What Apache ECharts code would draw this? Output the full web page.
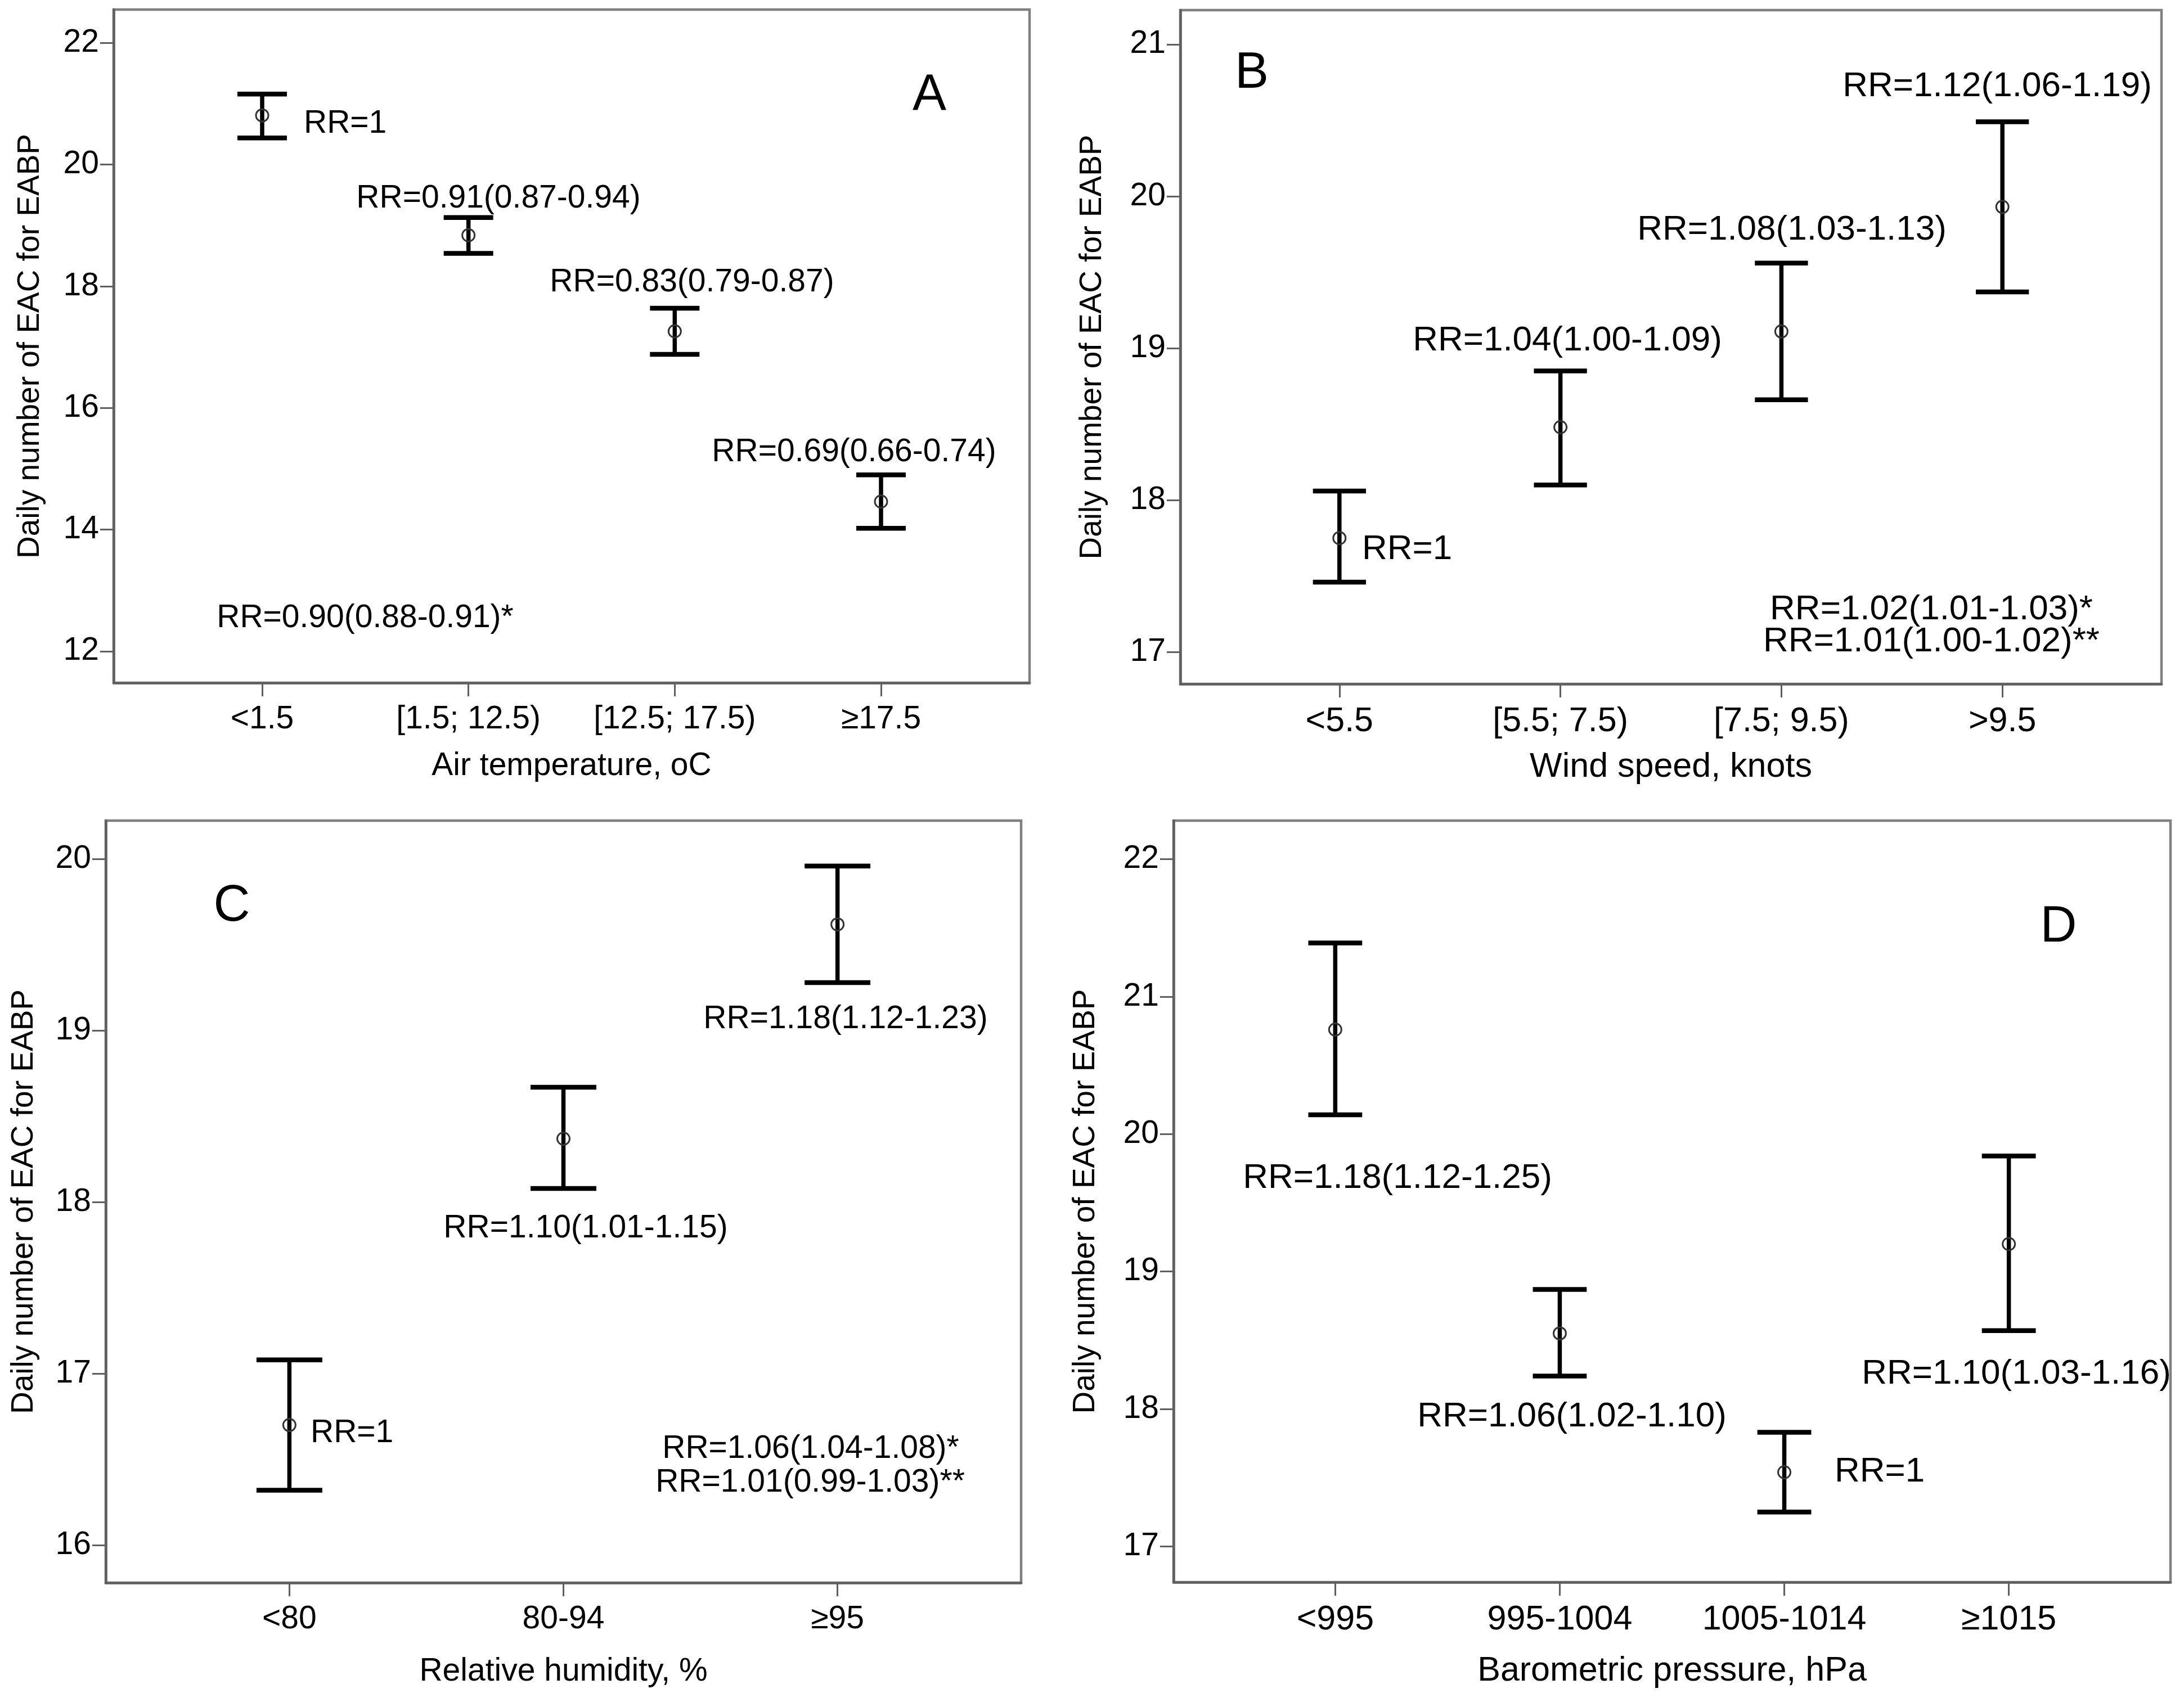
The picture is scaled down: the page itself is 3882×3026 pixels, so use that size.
<!DOCTYPE html>
<html><head><meta charset="utf-8">
<script src="https://cdn.jsdelivr.net/npm/echarts@6/dist/echarts.min.js"></script>
<style>html,body{margin:0;padding:0;background:#fff}#c{width:3882px;height:3026px}</style>
</head><body><div id="c"></div>
<script>
// ---- Data ----
const catsA = ['<1.5', '[1.5; 12.5)', '[12.5; 17.5)', '\u226517.5'];
const meanA = [20.81, 18.84, 17.26, 14.46];
const lowA  = [20.44, 18.54, 16.88, 14.02];
const highA = [21.16, 19.13, 17.64, 14.90];
const ticksA = [12, 14, 16, 18, 20, 22];
const notesA = ['RR=1', 'RR=0.91(0.87-0.94)', 'RR=0.83(0.79-0.87)', 'RR=0.69(0.66-0.74)', 'RR=0.90(0.88-0.91)*'];

const catsB = ['<5.5', '[5.5; 7.5)', '[7.5; 9.5)', '>9.5'];
const meanB = [17.75, 18.48, 19.11, 19.93];
const lowB  = [17.46, 18.10, 18.66, 19.37];
const highB = [18.06, 18.85, 19.56, 20.49];
const ticksB = [17, 18, 19, 20, 21];
const notesB = ['RR=1', 'RR=1.04(1.00-1.09)', 'RR=1.08(1.03-1.13)', 'RR=1.12(1.06-1.19)', 'RR=1.02(1.01-1.03)*', 'RR=1.01(1.00-1.02)**'];

const catsC = ['<80', '80-94', '\u226595'];
const meanC = [16.70, 18.37, 19.62];
const lowC  = [16.32, 18.08, 19.28];
const highC = [17.08, 18.67, 19.96];
const ticksC = [16, 17, 18, 19, 20];
const notesC = ['RR=1', 'RR=1.10(1.01-1.15)', 'RR=1.18(1.12-1.23)', 'RR=1.06(1.04-1.08)*', 'RR=1.01(0.99-1.03)**'];

const catsD = ['<995', '995-1004', '1005-1014', '\u22651015'];
const meanD = [20.76, 18.55, 17.54, 19.20];
const lowD  = [20.14, 18.24, 17.25, 18.57];
const highD = [21.39, 18.87, 17.83, 19.84];
const ticksD = [17, 18, 19, 20, 21, 22];
const notesD = ['RR=1.18(1.12-1.25)', 'RR=1.06(1.02-1.10)', 'RR=1', 'RR=1.10(1.03-1.16)'];

const yTitle = 'Daily number of EAC for EABP';

// ---- Layout ----
const FONT = '"Liberation Sans", Arial, Helvetica, sans-serif';
const AXIS_COLOR = '#5f5f5f';
const panels = [
  { letter: 'A', cats: catsA, mean: meanA, low: lowA, high: highA, ticks: ticksA, notes: notesA,
    xName: 'Air temperature, oC', fs: 57, xfs: 57,
    grid: { left: 202, top: 17, width: 1628, height: 1197 }, pad: 0.72, yMin: 11.48, yMax: 22.55,
    xNameGap: 120, yNameGap: 121,
    letterPos: [1652, 170],
    notePos: [[540, 220, 'left'], [886, 353, 'center'], [1230, 502, 'center'], [1518, 804, 'center'], [649, 1099, 'center']] },
  { letter: 'B', cats: catsB, mean: meanB, low: lowB, high: highB, ticks: ticksB, notes: notesB,
    xName: 'Wind speed, knots', fs: 62, xfs: 61,
    grid: { left: 2098, top: 18, width: 1744, height: 1198 }, pad: 0.72, yMin: 16.79, yMax: 21.225,
    xNameGap: 118, yNameGap: 129,
    letterPos: [2225, 131],
    notePos: [[2421, 977, 'left'], [2786, 606, 'center'], [3185, 409, 'center'], [3550, 154, 'center'], [3433, 1084, 'center'], [3433, 1141, 'center']] },
  { letter: 'C', cats: catsC, mean: meanC, low: lowC, high: highC, ticks: ticksC, notes: notesC,
    xName: 'Relative humidity, %', fs: 57, xfs: 57,
    grid: { left: 188, top: 1459, width: 1627, height: 1355 }, pad: 0.67, yMin: 15.78, yMax: 20.225,
    xNameGap: 130, yNameGap: 118,
    letterPos: [412, 1612],
    notePos: [[552, 2548, 'left'], [1041, 2184, 'center'], [1503, 1812, 'center'], [1441, 2576, 'center'], [1440, 2636, 'center']] },
  { letter: 'D', cats: catsD, mean: meanD, low: lowD, high: highD, ticks: ticksD, notes: notesD,
    xName: 'Barometric pressure, hPa', fs: 62, xfs: 61,
    grid: { left: 2086, top: 1459, width: 1772, height: 1354 }, pad: 0.72, yMin: 16.74, yMax: 22.28,
    xNameGap: 128, yNameGap: 129,
    letterPos: [3659, 1649],
    notePos: [[2484, 2095, 'center'], [2794, 2519, 'center'], [3261, 2617, 'left'], [3584, 2443, 'center']] }
];

const grids = [], xAxes = [], yAxes = [], series = [], graphics = [];
panels.forEach((p, i) => {
  const idx = p.cats.map((c, k) => k);
  grids.push(Object.assign({ show: true, borderColor: '#808080', borderWidth: 4.5, backgroundColor: 'transparent',
    containLabel: false, outerBoundsMode: 'none' }, p.grid));
  xAxes.push({
    type: 'value', gridIndex: i, min: -p.pad, max: p.cats.length - 1 + p.pad,
    axisLine: { show: true, onZero: false, lineStyle: { color: AXIS_COLOR, width: 4.5 } },
    axisTick: { show: true, customValues: idx, length: 24, lineStyle: { color: AXIS_COLOR, width: 3 } },
    axisLabel: { show: true, customValues: idx, formatter: v => p.cats[Math.round(v)], fontSize: p.xfs,
      fontFamily: FONT, color: '#000', margin: 37 },
    splitLine: { show: false },
    name: p.xName, nameLocation: 'middle', nameGap: p.xNameGap,
    nameTextStyle: { fontSize: p.xfs, fontFamily: FONT, color: '#000' }
  });
  yAxes.push({
    type: 'value', gridIndex: i, min: p.yMin, max: p.yMax,
    axisLine: { show: true, onZero: false, lineStyle: { color: AXIS_COLOR, width: 4.5 } },
    axisTick: { show: true, customValues: p.ticks, length: 24, lineStyle: { color: AXIS_COLOR, width: 3 } },
    axisLabel: { show: true, customValues: p.ticks, fontSize: 57, fontFamily: FONT, color: '#000', margin: 26 },
    splitLine: { show: false },
    name: yTitle, nameLocation: 'middle', nameGap: p.yNameGap, nameRotate: 90,
    nameTextStyle: { fontSize: 55, fontFamily: FONT, color: '#000' }
  });
  series.push({
    type: 'custom', xAxisIndex: i, yAxisIndex: i,
    data: p.cats.map((c, k) => [k, p.mean[k], p.low[k], p.high[k]]),
    encode: { x: 0, y: [1, 2, 3] },
    renderItem: function (params, api) {
      const x = api.value(0);
      const pm = api.coord([x, api.value(1)]);
      const pl = api.coord([x, api.value(2)]);
      const ph = api.coord([x, api.value(3)]);
      const hw = api.coord([x + 0.12, api.value(1)])[0] - pm[0];
      return { type: 'group', children: [
        { type: 'line', shape: { x1: pm[0], y1: ph[1], x2: pm[0], y2: pl[1] }, style: { stroke: '#000', lineWidth: 7.5 } },
        { type: 'line', shape: { x1: pm[0] - hw, y1: ph[1], x2: pm[0] + hw, y2: ph[1] }, style: { stroke: '#000', lineWidth: 8.5 } },
        { type: 'line', shape: { x1: pm[0] - hw, y1: pl[1], x2: pm[0] + hw, y2: pl[1] }, style: { stroke: '#000', lineWidth: 8.5 } },
        { type: 'circle', shape: { cx: pm[0], cy: pm[1], r: 11 }, style: { fill: 'none', stroke: '#333', lineWidth: 3 } }
      ] };
    },
    silent: true, animation: false
  });
  p.notes.forEach((t, k) => {
    const pos = p.notePos[k];
    graphics.push({ type: 'text', x: pos[0], y: pos[1], z: 100, silent: true,
      style: { text: t, font: p.fs + 'px ' + FONT, fill: '#000', align: pos[2], verticalAlign: 'middle',
        textAlign: pos[2], textVerticalAlign: 'middle' } });
  });
  graphics.push({ type: 'text', x: p.letterPos[0], y: p.letterPos[1], z: 100, silent: true,
    style: { text: p.letter, font: '90px ' + FONT, fill: '#000', align: 'center', verticalAlign: 'middle',
      textAlign: 'center', textVerticalAlign: 'middle' } });
});

const chart = echarts.init(document.getElementById('c'), null, { renderer: 'canvas' });
chart.setOption({
  backgroundColor: '#fff',
  animation: false,
  grid: grids, xAxis: xAxes, yAxis: yAxes, series: series, graphic: graphics
});
</script>
</body></html>
